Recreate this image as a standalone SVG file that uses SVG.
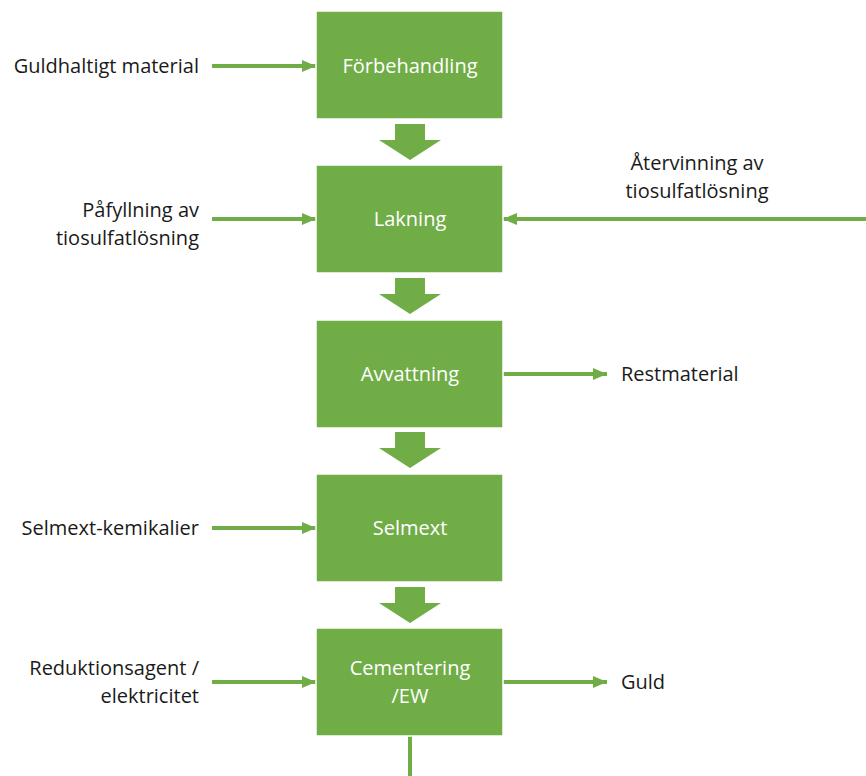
<svg xmlns="http://www.w3.org/2000/svg" width="866" height="776" viewBox="0 0 866 776">
<defs>
<marker id="ah" markerWidth="14" markerHeight="12" refX="14" refY="6" orient="auto" markerUnits="userSpaceOnUse">
<path d="M0,0 L14,6 L0,12 Z" fill="#70AD47"/>
</marker>
<path id="blk" d="M-15,0 H15 V16 H31 L0,36 L-31,16 H-15 Z" fill="#70AD47"/>
</defs>
<style>
.box{fill:#70AD47;stroke:#ffffff;stroke-width:1.5}
.bt{font-family:"Open Sans","Liberation Sans",sans-serif;font-size:20px;fill:#ffffff;text-anchor:middle}
.lb{font-family:"Open Sans","Liberation Sans",sans-serif;font-size:20px;fill:#1a1a1a}
.ln{stroke:#70AD47;stroke-width:4;fill:none}
</style>
<rect width="866" height="776" fill="#ffffff"/>
<g id="connectors">
<line class="ln" x1="212" y1="66" x2="316" y2="66" marker-end="url(#ah)"/>
<line class="ln" x1="212" y1="219" x2="316" y2="219" marker-end="url(#ah)"/>
<line class="ln" x1="866" y1="219" x2="503" y2="219" marker-end="url(#ah)"/>
<line class="ln" x1="503" y1="374" x2="607" y2="374" marker-end="url(#ah)"/>
<line class="ln" x1="212" y1="528" x2="316" y2="528" marker-end="url(#ah)"/>
<line class="ln" x1="212" y1="682" x2="316" y2="682" marker-end="url(#ah)"/>
<line class="ln" x1="503" y1="682" x2="607" y2="682" marker-end="url(#ah)"/>
<line class="ln" x1="410" y1="736" x2="410" y2="776"/>
<use href="#blk" x="410" y="124"/>
<use href="#blk" x="410" y="278"/>
<use href="#blk" x="410" y="432"/>
<use href="#blk" x="410" y="587"/>
</g>
<g id="n1"><rect class="box" x="316" y="11" width="187" height="108"/><text class="bt" x="410" y="73">Förbehandling</text></g>
<g id="n2"><rect class="box" x="316" y="165" width="187" height="108"/><text class="bt" x="410" y="226">Lakning</text></g>
<g id="n3"><rect class="box" x="316" y="320" width="187" height="108"/><text class="bt" x="410" y="381">Avvattning</text></g>
<g id="n4"><rect class="box" x="316" y="474" width="187" height="108"/><text class="bt" x="410" y="535">Selmext</text></g>
<g id="n5"><rect class="box" x="316" y="628" width="187" height="108"/><text class="bt" x="410" y="675">Cementering</text><text class="bt" x="410" y="703">/EW</text></g>
<g id="labels">
<text class="lb" x="199" y="73" text-anchor="end">Guldhaltigt material</text>
<text class="lb" x="199" y="217" text-anchor="end">Påfyllning av</text>
<text class="lb" x="199" y="245" text-anchor="end">tiosulfatlösning</text>
<text class="lb" x="697" y="170" text-anchor="middle">Återvinning av</text>
<text class="lb" x="697" y="198" text-anchor="middle">tiosulfatlösning</text>
<text class="lb" x="621" y="381">Restmaterial</text>
<text class="lb" x="199" y="535" text-anchor="end">Selmext-kemikalier</text>
<text class="lb" x="199" y="675" text-anchor="end">Reduktionsagent /</text>
<text class="lb" x="199" y="703" text-anchor="end">elektricitet</text>
<text class="lb" x="621" y="689">Guld</text>
</g>
</svg>
